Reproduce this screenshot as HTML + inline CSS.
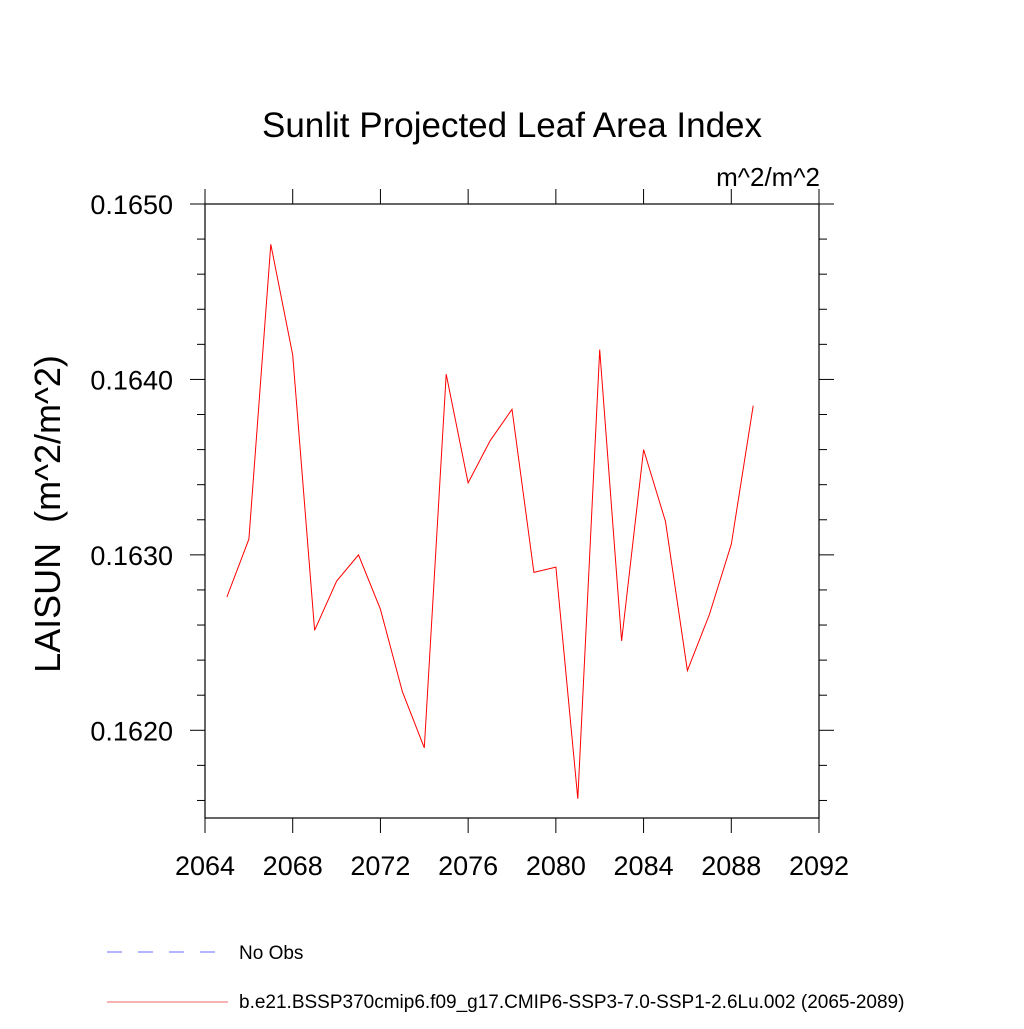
<!DOCTYPE html>
<html><head><meta charset="utf-8"><style>
body{margin:0;background:#fff}
text{font-family:"Liberation Sans",sans-serif}
</style></head><body>
<svg id="chart" width="1024" height="1024" xmlns="http://www.w3.org/2000/svg">
<rect width="1024" height="1024" fill="#fff"/>
<text x="512" y="137" font-size="35" text-anchor="middle">Sunlit Projected Leaf Area Index</text>
<text x="820" y="186" font-size="26" text-anchor="end">m^2/m^2</text>
<text x="0" y="0" font-size="36" text-anchor="middle" transform="translate(60,514) rotate(-90)">LAISUN&#160;&#160;(m^2/m^2)</text>
<g id="axes"></g>
<g id="series"></g>
<g>
<line x1="107" y1="952" x2="215" y2="952" stroke="#6a6aff" stroke-width="1" stroke-dasharray="15,16"/>
<text x="239" y="959" font-size="19">No Obs</text>
<line x1="107" y1="1002" x2="228" y2="1002" stroke="#e86a6a" stroke-width="1"/>
<text x="239" y="1008" font-size="19">b.e21.BSSP370cmip6.f09_g17.CMIP6-SSP3-7.0-SSP1-2.6Lu.002 (2065-2089)</text>
</g>
</svg>
<script>
const years=[2065,2066,2067,2068,2069,2070,2071,2072,2073,2074,2075,2076,2077,2078,2079,2080,2081,2082,2083,2084,2085,2086,2087,2088,2089];
const values=[0.16276,0.16309,0.16477,0.16414,0.16257,0.16285,0.16300,0.16269,0.16222,0.16190,0.16403,0.16341,0.16365,0.16383,0.16290,0.16293,0.16161,0.16417,0.16251,0.16360,0.16319,0.16234,0.16266,0.16306,0.16385];
const xTicks=[2064,2068,2072,2076,2080,2084,2088,2092];
const yTicks=[0.1620,0.1630,0.1640,0.1650];
const yTickLabels=["0.1620","0.1630","0.1640","0.1650"];
const L=205,R=819,T=204,B=818,X0=2064,X1=2092,Y0=0.1615,Y1=0.1650;
const sx=v=>L+(v-X0)/(X1-X0)*(R-L);
const sy=v=>B-(v-Y0)/(Y1-Y0)*(B-T);
const NS="http://www.w3.org/2000/svg";
const ax=document.getElementById('axes');
function mk(tag,attrs,parent){const e=document.createElementNS(NS,tag);for(const k in attrs)e.setAttribute(k,attrs[k]);parent.appendChild(e);return e;}
const frame=mk('rect',{x:L,y:T,width:R-L,height:B-T,fill:'none',stroke:'#000','stroke-width':1.2},ax);


xTicks.forEach(t=>{
  const x=sx(t);
  const a=mk('line',{x1:x,y1:B,x2:x,y2:B+15,stroke:'#000'},ax);
  
  
  const b=mk('line',{x1:x,y1:T,x2:x,y2:T-15,stroke:'#000'},ax);
  
  
  const tx=mk('text',{x:x,y:875,'font-size':27,'text-anchor':'middle'},ax);
  tx.textContent=t;
  
  
});
for(let i=0;i<=35;i++){
  if(i%2===0) continue;
  const v=Y0+i*0.0001;
  const y=sy(v);
  const major=(i%10===5);
  const len=major?15:8;
  const a=mk('line',{x1:L,y1:y,x2:L-len,y2:y,stroke:'#000'},ax);
  
  
  const b=mk('line',{x1:R,y1:y,x2:R+len,y2:y,stroke:'#000'},ax);
  
  
}
yTicks.forEach((t,i)=>{
  const tx=mk('text',{x:173,y:sy(t)+10,'font-size':27,'text-anchor':'end'},ax);
  tx.textContent=yTickLabels[i];
  
  
});
const pts=years.map((y,i)=>sx(y).toFixed(1)+','+sy(values[i]).toFixed(1)).join(' ');
const line=mk('polyline',{points:pts,fill:'none',stroke:'#ff0000','stroke-width':1},document.getElementById('series'));


</script>
</body></html>
